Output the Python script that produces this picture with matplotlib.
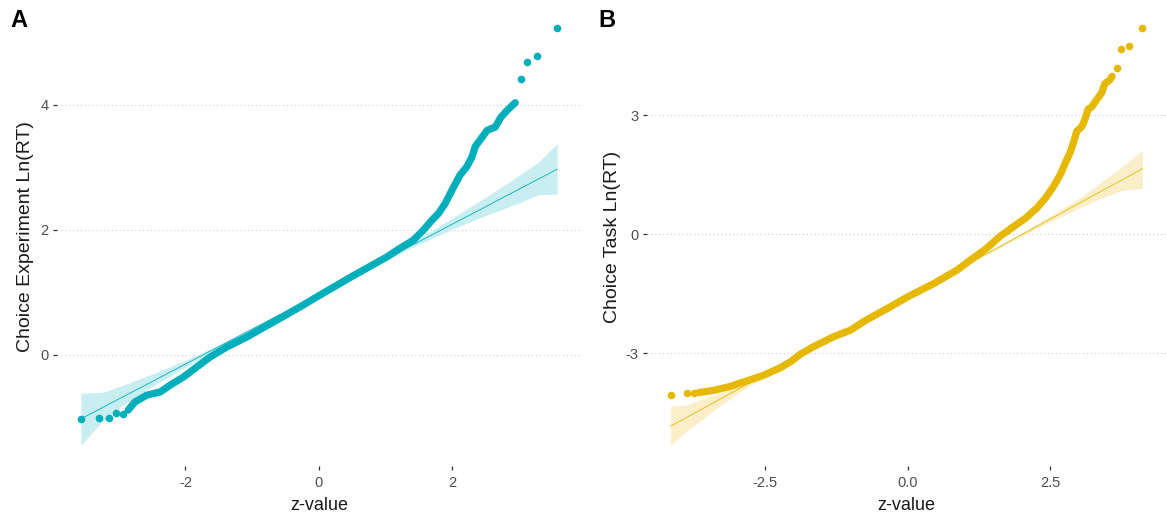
import numpy as np
import matplotlib.pyplot as plt

plt.rcParams['font.family'] = ['Liberation Sans', 'DejaVu Sans']
plt.rcParams['axes.unicode_minus'] = False

# ---- panel A: Choice Experiment ----
a_body_z = [-2.86, -2.76, -2.58, -2.38, -2.23, -2.03, -1.83, -1.63, -1.38, -1.08, -0.68, -0.3, 0.0,
            0.5, 1.02, 1.22, 1.42, 1.57, 1.70, 1.80, 1.90, 2.0, 2.12, 2.22, 2.30, 2.35, 2.42,
            2.53, 2.65, 2.73, 2.83, 2.95]
a_body_y = [-0.89, -0.76, -0.65, -0.60, -0.49, -0.36, -0.20, -0.04, 0.12, 0.28, 0.52, 0.75, 0.94,
            1.25, 1.56, 1.70, 1.83, 1.99, 2.15, 2.26, 2.42, 2.63, 2.87, 3.0, 3.16, 3.33, 3.43,
            3.59, 3.64, 3.79, 3.91, 4.03]
a_tail_z = [-3.57, -3.29, -3.14, -3.04, -2.93, 3.03, 3.13, 3.28, 3.58]
a_tail_y = [-1.03, -1.01, -1.01, -0.94, -0.955, 4.41, 4.68, 4.78, 5.22]
a_fit = [0.965, 0.559]  # intercept, slope
a_band_z = [-3.57, -3.23, -2.9, -2.5, -2.0, -1.5, -1.0, 0.0, 1.0, 1.5, 2.0, 2.5, 3.0, 3.3, 3.58]
a_band_hi = [0.41, 0.24, 0.18, 0.12, 0.06, 0.03, 0.02, 0.01, 0.02, 0.05, 0.10, 0.15, 0.22, 0.27, 0.41]
a_band_lo = [0.42, 0.21, 0.12, 0.08, 0.05, 0.03, 0.02, 0.01, 0.02, 0.04, 0.08, 0.14, 0.22, 0.25, 0.40]

# ---- panel B: Choice Task ----
b_body_z = [-3.66, -3.39, -3.10, -2.81, -2.52, -2.23, -2.05, -1.88, -1.65, -1.30, -1.0, -0.73, -0.35,
            0.0, 0.45, 0.87, 1.1, 1.36, 1.62, 1.85, 2.06, 2.26, 2.41, 2.55, 2.67, 2.76, 2.84,
            2.90, 2.96, 3.05, 3.10, 3.16, 3.22, 3.31, 3.40, 3.45, 3.54, 3.58]
b_body_y = [-4.00, -3.94, -3.84, -3.70, -3.56, -3.37, -3.22, -3.03, -2.84, -2.59, -2.42, -2.17, -1.87,
            -1.58, -1.25, -0.90, -0.65, -0.38, -0.05, 0.19, 0.40, 0.66, 0.91, 1.20, 1.50, 1.80, 2.05,
            2.30, 2.60, 2.72, 2.89, 3.16, 3.21, 3.40, 3.58, 3.80, 3.90, 3.99]
b_tail_z = [-4.15, -3.87, -3.74, 3.66, 3.74, 3.87, 4.11]
b_tail_y = [-4.07, -4.02, -4.01, 4.21, 4.68, 4.75, 5.20]
b_fit = [-1.58, 0.787]
b_band_z = [-4.15, -3.9, -3.4, -2.93, -2.5, -2.0, -1.0, 0.0, 1.0, 2.0, 2.5, 3.0, 3.3, 3.74, 4.11]
b_band_hi = [0.51, 0.33, 0.19, 0.08, 0.05, 0.03, 0.02, 0.01, 0.02, 0.04, 0.07, 0.13, 0.20, 0.33, 0.46]
b_band_lo = [0.48, 0.36, 0.20, 0.09, 0.05, 0.03, 0.02, 0.01, 0.02, 0.04, 0.07, 0.12, 0.16, 0.26, 0.49]


def qq_panel(ax, body_z, body_y, tail_z, tail_y, fit, band_z, band_hi, band_lo,
             color, band_color, xticks, xlabels, yticks, ylabel):
    bz = np.array(band_z)
    line = fit[0] + fit[1] * bz
    upper = line + np.array(band_hi)
    lower = line - np.array(band_lo)
    ax.fill_between(bz, lower, upper, color=band_color, lw=0, zorder=1)
    ax.plot(bz, line, color=color, lw=0.6, zorder=4)
    ax.plot(body_z, body_y, color=color, lw=5.2, solid_capstyle='round',
            solid_joinstyle='round', zorder=3)
    ax.scatter(tail_z, tail_y, s=30, color=color, lw=0, zorder=3)

    # ggplot-like 5% expansion
    xs = list(body_z) + list(tail_z) + list(band_z)
    ys = list(body_y) + list(tail_y) + list(upper) + list(lower)
    dx = (max(xs) - min(xs)) * 0.05
    dy = (max(ys) - min(ys)) * 0.05
    ax.set_xlim(min(xs) - dx, max(xs) + dx)
    ax.set_ylim(min(ys) - dy, max(ys) + dy)

    ax.set_xticks(xticks)
    ax.set_xticklabels(xlabels)
    ax.set_yticks(yticks)
    ax.set_yticklabels([str(t) for t in yticks])
    ax.grid(axis='y', color='#c8c8c8', lw=0.8, linestyle=(0, (1, 2.5)))
    ax.grid(axis='x', visible=False)
    ax.set_axisbelow(True)
    for s in ax.spines.values():
        s.set_visible(False)
    ax.tick_params(length=3, width=0.9, color='#333333', labelsize=10.5,
                   labelcolor='#4d4d4d', pad=3)
    ax.tick_params(axis='x', pad=4.5)
    ax.set_xlabel('z-value', fontsize=13, color='#1a1a1a')
    ax.set_ylabel(ylabel, fontsize=14, color='#1a1a1a')


fig = plt.figure(figsize=(11.66, 5.19), dpi=100)
axA = fig.add_axes([0.0489, 0.1021, 0.4494, 0.8834])
axB = fig.add_axes([0.5549, 0.1021, 0.4451, 0.8834])

qq_panel(axA, a_body_z, a_body_y, a_tail_z, a_tail_y, a_fit, a_band_z, a_band_hi, a_band_lo,
         '#00AFBB', '#c9eef1', [-2, 0, 2], ['-2', '0', '2'], [0, 2, 4],
         'Choice Experiment Ln(RT)')
qq_panel(axB, b_body_z, b_body_y, b_tail_z, b_tail_y, b_fit, b_band_z, b_band_hi, b_band_lo,
         '#E7B800', '#faefc9', [-2.5, 0, 2.5], ['-2.5', '0.0', '2.5'], [-3, 0, 3],
         'Choice Task Ln(RT)')

axA.yaxis.set_label_coords(-0.044, 0.5)
axB.yaxis.set_label_coords(-0.050, 0.5)
for ax in (axA, axB):
    ax.xaxis.set_label_coords(0.5, -0.067)

fig.text(0.0085, 0.982, 'A', fontsize=17, fontweight='bold', va='top', ha='left')
fig.text(0.5135, 0.982, 'B', fontsize=17, fontweight='bold', va='top', ha='left')

fig.savefig('out.png', dpi=100)
